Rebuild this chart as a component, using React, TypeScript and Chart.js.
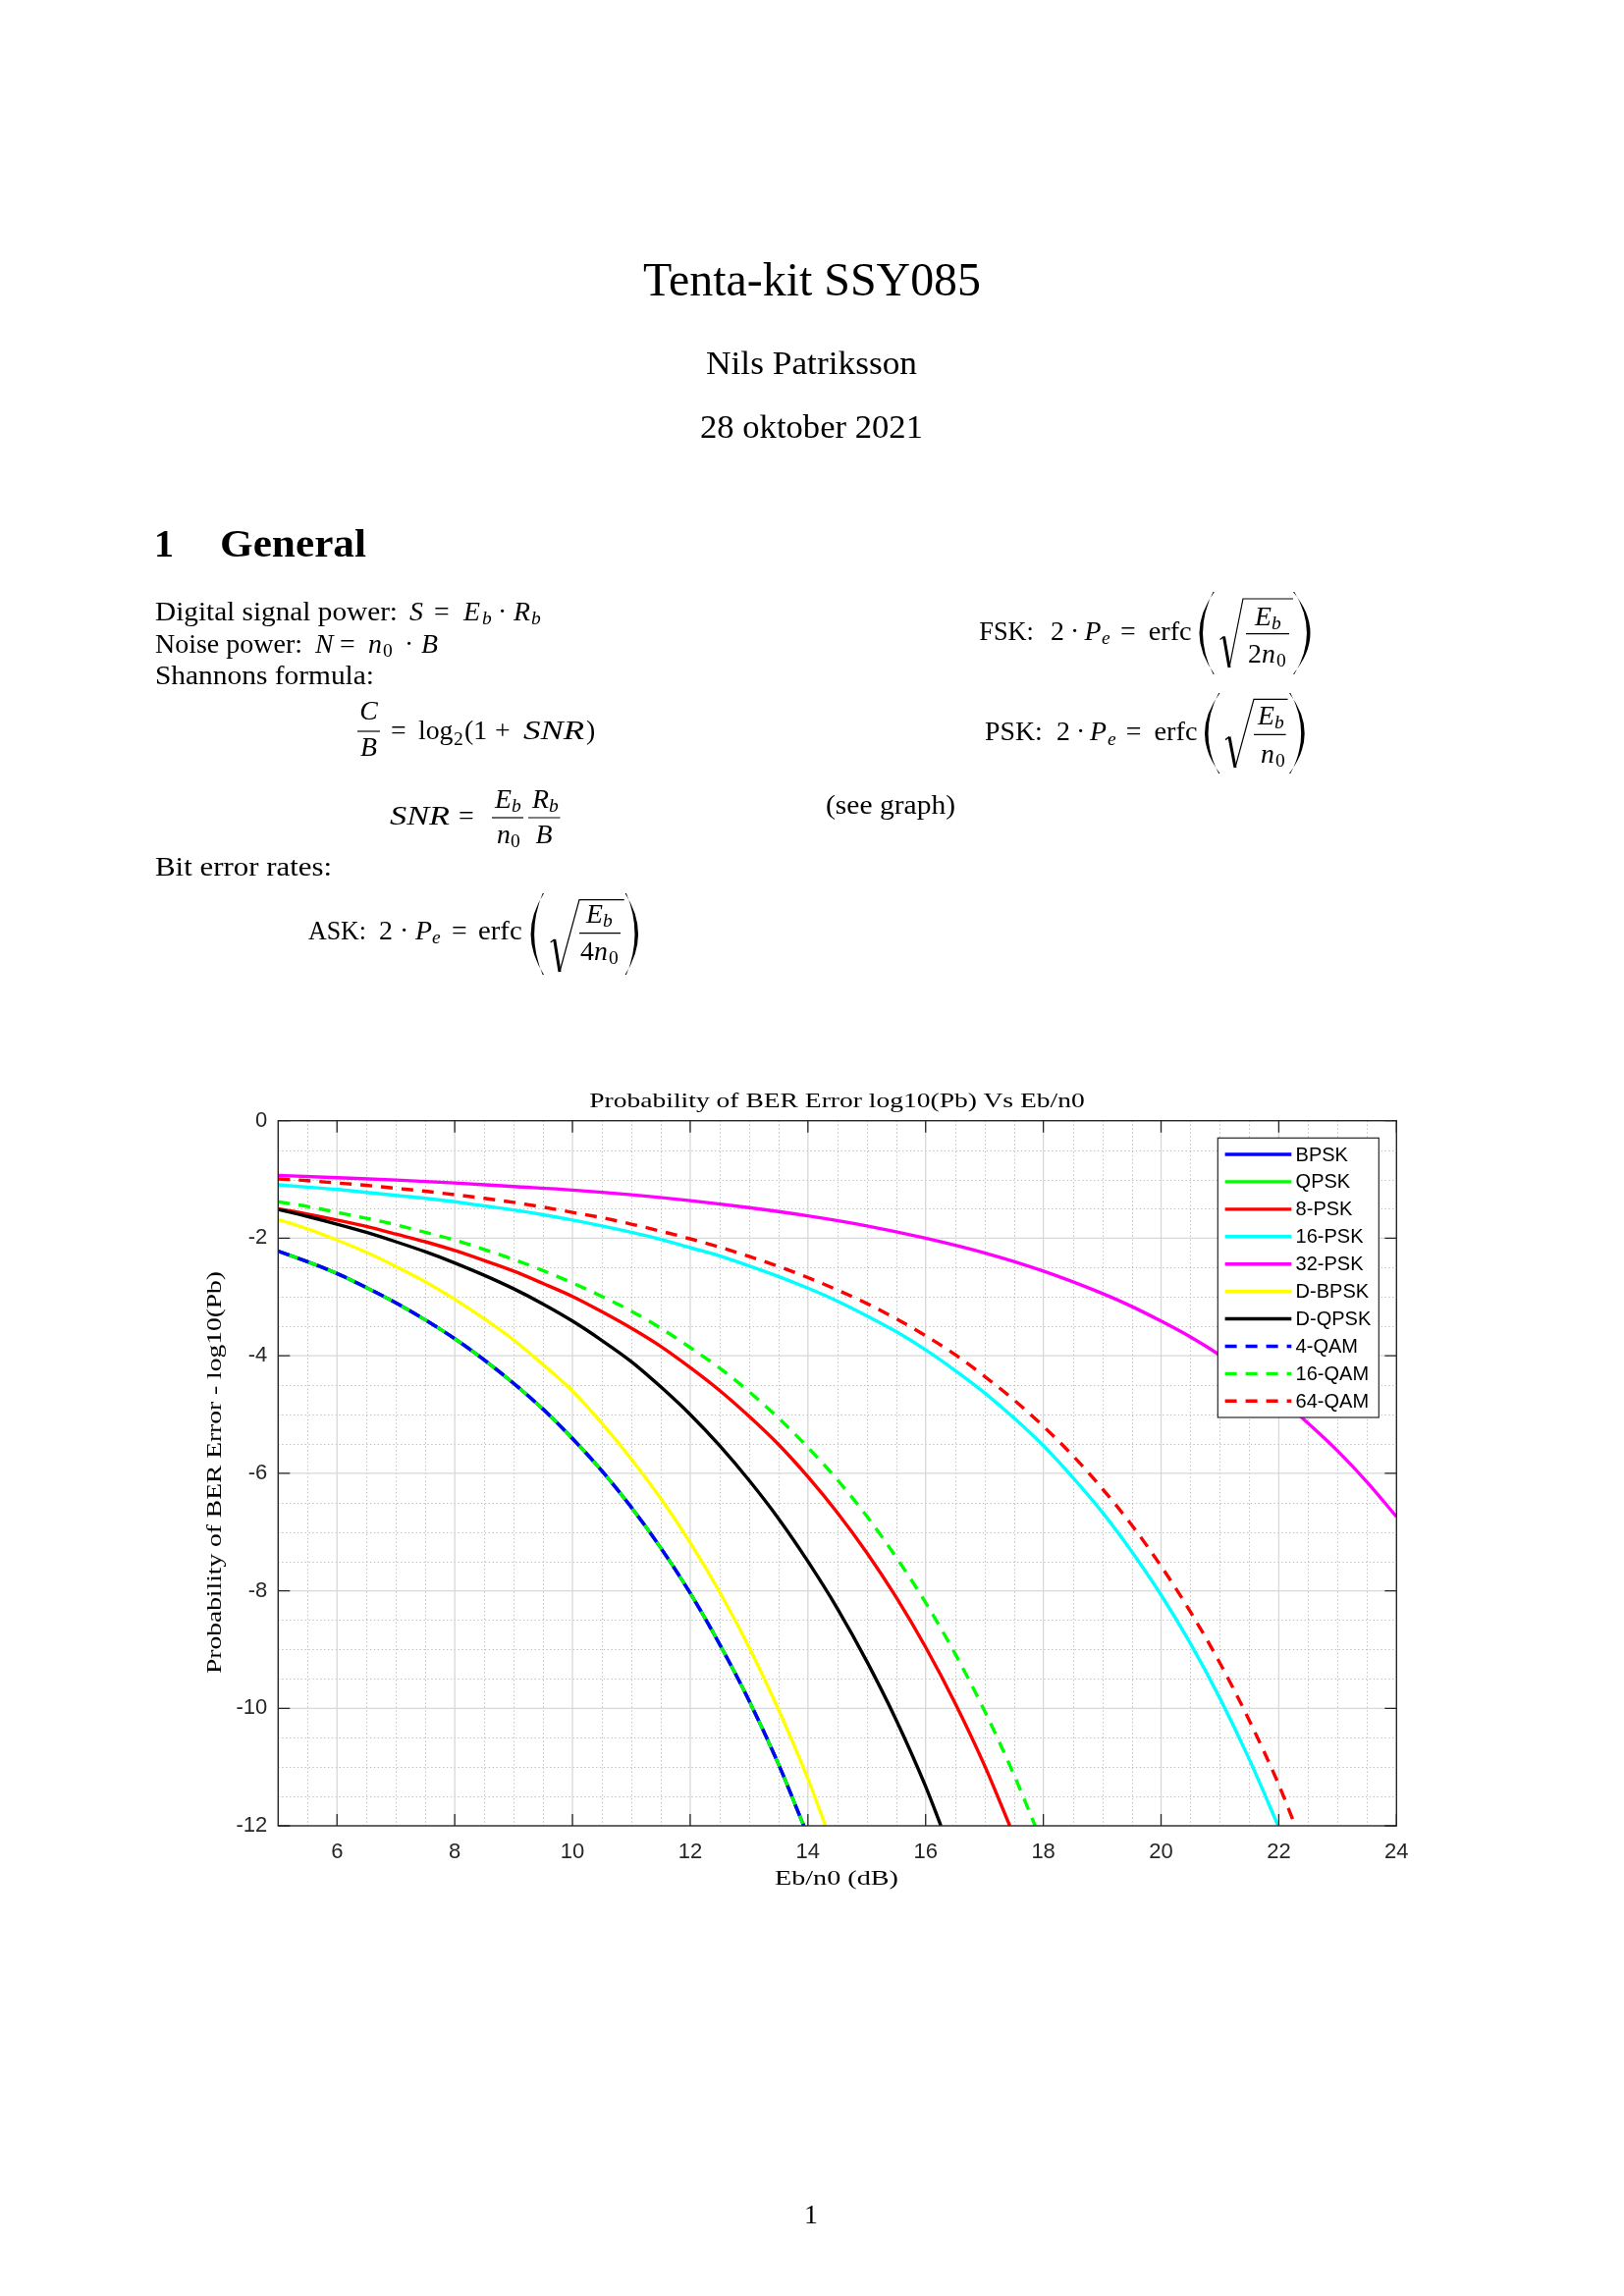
import React, { useEffect, useRef } from "react";
import { Chart, registerables } from "chart.js";

Chart.register(...registerables);

// ---------------- data ----------------
const seriesNames = ["BPSK", "QPSK", "8-PSK", "16-PSK", "32-PSK", "D-BPSK", "D-QPSK", "4-QAM", "16-QAM", "64-QAM"];

const xTickValues = [6, 8, 10, 12, 14, 16, 18, 20, 22, 24];
const yTickValues = [-12, -10, -8, -6, -4, -2, 0];

const bpskEbN0 = [5, 5.5, 6, 6.5, 7, 7.5, 8, 8.5, 9, 9.5, 10, 10.5, 11, 11.5, 12, 12.5, 13, 13.5, 13.93];
const bpskLogPb = [-2.22, -2.4, -2.6, -2.84, -3.1, -3.39, -3.71, -4.07, -4.47, -4.91, -5.41, -5.96, -6.58, -7.27, -8.04, -8.91, -9.87, -10.95, -12];

const qpskEbN0 = [5, 5.5, 6, 6.5, 7, 7.5, 8, 8.5, 9, 9.5, 10, 10.5, 11, 11.5, 12, 12.5, 13, 13.5, 13.93];
const qpskLogPb = [-2.22, -2.4, -2.6, -2.84, -3.1, -3.39, -3.71, -4.07, -4.47, -4.91, -5.41, -5.96, -6.58, -7.27, -8.04, -8.91, -9.87, -10.95, -12];

const psk8EbN0 = [5, 5.5, 6, 6.5, 7, 7.5, 8, 8.5, 9, 9.5, 10, 10.5, 11, 11.5, 12, 12.5, 13, 13.5, 14, 14.5, 15, 15.5, 16, 16.5, 17, 17.43];
const psk8LogPb = [-1.5, -1.59, -1.69, -1.8, -1.93, -2.06, -2.21, -2.38, -2.56, -2.77, -2.99, -3.25, -3.53, -3.84, -4.2, -4.59, -5.03, -5.51, -6.06, -6.67, -7.35, -8.11, -8.96, -9.91, -10.97, -12];

const psk16EbN0 = [5, 5.5, 6, 6.5, 7, 7.5, 8, 8.5, 9, 9.5, 10, 10.5, 11, 11.5, 12, 12.5, 13, 13.5, 14, 14.5, 15, 15.5, 16, 16.5, 17, 17.5, 18, 18.5, 19, 19.5, 20, 20.5, 21, 21.5, 21.99];
const psk16LogPb = [-1.09, -1.13, -1.17, -1.22, -1.27, -1.32, -1.38, -1.45, -1.52, -1.6, -1.69, -1.79, -1.9, -2.02, -2.16, -2.3, -2.47, -2.65, -2.85, -3.07, -3.32, -3.59, -3.9, -4.25, -4.63, -5.06, -5.53, -6.07, -6.66, -7.33, -8.07, -8.9, -9.83, -10.87, -12];

const psk32EbN0 = [5, 6, 7, 8, 9, 10, 11, 12, 13, 14, 15, 16, 17, 18, 19, 19.5, 20, 20.5, 21, 21.5, 22, 22.5, 23, 23.5, 24];
const psk32LogPb = [-0.93, -0.97, -1.01, -1.06, -1.12, -1.18, -1.26, -1.36, -1.48, -1.62, -1.79, -2.0, -2.25, -2.56, -2.94, -3.16, -3.41, -3.68, -3.99, -4.34, -4.72, -5.15, -5.62, -6.15, -6.74];

const dbpskEbN0 = [5, 5.5, 6, 6.5, 7, 7.5, 8, 8.5, 9, 9.5, 10, 10.5, 11, 11.5, 12, 12.5, 13, 13.5, 14, 14.3];
const dbpskLogPb = [-1.68, -1.84, -2.03, -2.24, -2.48, -2.74, -3.04, -3.37, -3.73, -4.15, -4.6, -5.15, -5.76, -6.43, -7.18, -8.02, -8.96, -10.02, -11.2, -12];

const dqpskEbN0 = [5, 5.5, 6, 6.5, 7, 7.5, 8, 8.5, 9, 9.5, 10, 10.5, 11, 11.5, 12, 12.5, 13, 13.5, 14, 14.5, 15, 15.5, 16, 16.26];
const dqpskLogPb = [-1.51, -1.63, -1.76, -1.9, -2.06, -2.23, -2.42, -2.63, -2.86, -3.12, -3.41, -3.74, -4.1, -4.53, -5.0, -5.53, -6.12, -6.77, -7.5, -8.3, -9.2, -10.2, -11.33, -12];

const qam4EbN0 = [5, 5.5, 6, 6.5, 7, 7.5, 8, 8.5, 9, 9.5, 10, 10.5, 11, 11.5, 12, 12.5, 13, 13.5, 13.93];
const qam4LogPb = [-2.22, -2.4, -2.6, -2.84, -3.1, -3.39, -3.71, -4.07, -4.47, -4.91, -5.41, -5.96, -6.58, -7.27, -8.04, -8.91, -9.87, -10.95, -12];

const qam16EbN0 = [5, 5.5, 6, 6.5, 7, 7.5, 8, 8.5, 9, 9.5, 10, 10.5, 11, 11.5, 12, 12.5, 13, 13.5, 14, 14.5, 15, 15.5, 16, 16.5, 17, 17.5, 17.86];
const qam16LogPb = [-1.38, -1.46, -1.56, -1.66, -1.77, -1.9, -2.03, -2.19, -2.36, -2.55, -2.76, -2.99, -3.24, -3.53, -3.86, -4.21, -4.61, -5.06, -5.56, -6.11, -6.73, -7.43, -8.2, -9.07, -10.04, -11.13, -12];

const qam64EbN0 = [5, 5.5, 6, 6.5, 7, 7.5, 8, 8.5, 9, 9.5, 10, 10.5, 11, 11.5, 12, 12.5, 13, 13.5, 14, 14.5, 15, 15.5, 16, 16.5, 17, 17.5, 18, 18.5, 19, 19.5, 20, 20.5, 21, 21.5, 22, 22.28];
const qam64LogPb = [-0.99, -1.02, -1.06, -1.1, -1.15, -1.2, -1.26, -1.32, -1.39, -1.47, -1.56, -1.65, -1.76, -1.88, -2.01, -2.15, -2.31, -2.48, -2.67, -2.88, -3.11, -3.37, -3.66, -3.98, -4.35, -4.75, -5.2, -5.7, -6.26, -6.88, -7.58, -8.36, -9.23, -10.21, -11.3, -12];

const seriesX = [bpskEbN0, qpskEbN0, psk8EbN0, psk16EbN0, psk32EbN0, dbpskEbN0, dqpskEbN0, qam4EbN0, qam16EbN0, qam64EbN0];
const seriesY = [bpskLogPb, qpskLogPb, psk8LogPb, psk16LogPb, psk32LogPb, dbpskLogPb, dqpskLogPb, qam4LogPb, qam16LogPb, qam64LogPb];

// ---------------- styles ----------------
const seriesColors = ["#0000ff", "#00ff00", "#ff0000", "#00ffff", "#ff00ff", "#ffff00", "#000000", "#0000ff", "#00ff00", "#ff0000"];
const seriesDashed = [false, false, false, false, false, false, false, true, true, true];

const X_MIN = 5, X_MAX = 24, Y_MIN = -12, Y_MAX = 0;
const SERIF = '"Liberation Serif", "Times New Roman", serif';
const SANS = '"Liberation Sans", Arial, Helvetica, sans-serif';
const AXIS_COLOR = "#262626";
const LINE_W = 3.4;
const DASH = [12, 9];

// grid (minor dotted + major solid) drawn behind the data
const gridPlugin = {
  id: "matlabGrid",
  beforeDatasetsDraw(chart: any) {
    const { ctx, chartArea: a, scales } = chart;
    const xs = scales.x, ys = scales.y;
    ctx.save();
    ctx.lineWidth = 1;
    ctx.strokeStyle = "#bcbcbc";
    ctx.setLineDash([1.3, 2.6]);
    for (let v = X_MIN + 0.5; v < X_MAX; v += 0.5) {
      if (xTickValues.includes(v)) continue;
      const p = Math.round(xs.getPixelForValue(v)) + 0.5;
      ctx.beginPath(); ctx.moveTo(p, a.top); ctx.lineTo(p, a.bottom); ctx.stroke();
    }
    for (let v = Y_MIN + 0.5; v < Y_MAX; v += 0.5) {
      if (yTickValues.includes(v)) continue;
      const p = Math.round(ys.getPixelForValue(v)) + 0.5;
      ctx.beginPath(); ctx.moveTo(a.left, p); ctx.lineTo(a.right, p); ctx.stroke();
    }
    ctx.setLineDash([]);
    ctx.strokeStyle = "#d8d8d8";
    ctx.lineWidth = 1.3;
    for (const v of xTickValues) {
      if (v <= X_MIN || v >= X_MAX) continue;
      const p = xs.getPixelForValue(v);
      ctx.beginPath(); ctx.moveTo(p, a.top); ctx.lineTo(p, a.bottom); ctx.stroke();
    }
    for (const v of yTickValues) {
      if (v <= Y_MIN || v >= Y_MAX) continue;
      const p = ys.getPixelForValue(v);
      ctx.beginPath(); ctx.moveTo(a.left, p); ctx.lineTo(a.right, p); ctx.stroke();
    }
    ctx.restore();
  },
};

// axes box and inward tick marks on all four sides
const boxPlugin = {
  id: "matlabBox",
  afterDatasetsDraw(chart: any) {
    const { ctx, chartArea: a, scales } = chart;
    const xs = scales.x, ys = scales.y;
    const tl = 12;
    ctx.save();
    ctx.strokeStyle = AXIS_COLOR;
    ctx.lineWidth = 1.4;
    ctx.setLineDash([]);
    ctx.strokeRect(a.left, a.top, a.right - a.left, a.bottom - a.top);
    ctx.lineWidth = 1.3;
    for (const v of xTickValues) {
      const p = xs.getPixelForValue(v);
      ctx.beginPath();
      ctx.moveTo(p, a.bottom); ctx.lineTo(p, a.bottom - tl);
      ctx.moveTo(p, a.top); ctx.lineTo(p, a.top + tl);
      ctx.stroke();
    }
    for (const v of yTickValues) {
      const p = ys.getPixelForValue(v);
      ctx.beginPath();
      ctx.moveTo(a.left, p); ctx.lineTo(a.left + tl, p);
      ctx.moveTo(a.right, p); ctx.lineTo(a.right - tl, p);
      ctx.stroke();
    }
    ctx.restore();
  },
};

// boxed legend in the upper right corner of the axes
const legendPlugin = {
  id: "matlabLegend",
  afterDraw(chart: any) {
    const { ctx, chartArea: a } = chart;
    const w = 164, h = 284.7;
    const left = a.right - 18 - w, top = a.top + 17.6;
    ctx.save();
    ctx.fillStyle = "#ffffff";
    ctx.fillRect(left, top, w, h);
    ctx.strokeStyle = AXIS_COLOR;
    ctx.lineWidth = 1.2;
    ctx.strokeRect(left, top, w, h);
    chart.data.datasets.forEach((ds: any, i: number) => {
      const cy = top + 16.7 + i * 27.92;
      ctx.strokeStyle = ds.borderColor;
      ctx.lineWidth = LINE_W;
      ctx.setLineDash(ds.borderDash || []);
      ctx.beginPath(); ctx.moveTo(left + 7.3, cy); ctx.lineTo(left + 75, cy); ctx.stroke();
      ctx.setLineDash([]);
      ctx.fillStyle = "#000000";
      ctx.font = `20px ${SANS}`;
      ctx.textBaseline = "middle";
      ctx.textAlign = "left";
      ctx.fillText(ds.label, left + 79.3, cy + 1);
    });
    ctx.restore();
  },
};

function BerChart() {
  const ref = useRef<HTMLCanvasElement | null>(null);
  useEffect(() => {
    if (!ref.current) return;
    const datasets = seriesNames.map((name, i) => ({
      label: name,
      data: seriesX[i].map((x, k) => ({ x, y: seriesY[i][k] })),
      borderColor: seriesColors[i],
      backgroundColor: seriesColors[i],
      borderWidth: LINE_W,
      borderDash: seriesDashed[i] ? DASH : [],
      borderCapStyle: "butt",
      borderJoinStyle: "round",
      pointRadius: 0,
      pointHoverRadius: 0,
      fill: false,
      cubicInterpolationMode: "monotone",
      order: -i,
      clip: 0,
    }));
    const tickFont = { family: SANS, size: 22 };
    const chart = new Chart(ref.current, {
      type: "line",
      data: { datasets } as any,
      options: {
        animation: false,
        responsive: false,
        devicePixelRatio: 1,
        events: [],
        layout: { padding: { left: 30.3, right: 50.7, top: 51.7, bottom: 30 } },
        plugins: { legend: { display: false }, title: { display: false }, tooltip: { enabled: false } },
        scales: {
          x: {
            type: "linear",
            min: X_MIN,
            max: X_MAX,
            afterBuildTicks: (s: any) => { s.ticks = xTickValues.map((v) => ({ value: v })); },
            ticks: { padding: 14, font: tickFont, color: AXIS_COLOR, maxRotation: 0, autoSkip: false, callback: (v: any) => String(v) },
            grid: { display: false, drawTicks: false },
            border: { display: false },
            afterFit: (s: any) => { s.height = 50; },
          },
          y: {
            type: "linear",
            min: Y_MIN,
            max: Y_MAX,
            afterBuildTicks: (s: any) => { s.ticks = yTickValues.map((v) => ({ value: v })); },
            ticks: { padding: 11, font: tickFont, color: AXIS_COLOR, autoSkip: false, callback: (v: any) => String(v) },
            grid: { display: false, drawTicks: false },
            border: { display: false },
            afterFit: (s: any) => { s.width = 70; },
          },
        },
      } as any,
      plugins: [gridPlugin, boxPlugin, legendPlugin],
    });
    return () => chart.destroy();
  }, []);
  return (
    <canvas
      ref={ref}
      width={1290}
      height={850}
      style={{ position: "absolute", left: 183, top: 1090, width: 1290, height: 850 }}
    />
  );
}

// ---------------- document text (SVG) ----------------
const BODY = 27.8, SUB = 19.5;

type TP = { x: number; y: number; s?: number; t: string; i?: boolean; b?: boolean; len?: number; a?: "start" | "middle" | "end"; f?: string };
const Tx = ({ x, y, s = BODY, t, i, b, len, a = "start", f = SERIF }: TP) => (
  <text
    x={x}
    y={y}
    fontSize={s}
    fontFamily={f}
    fontStyle={i ? "italic" : "normal"}
    fontWeight={b ? "bold" : "normal"}
    textAnchor={a}
    fill="#000"
    {...(len ? { textLength: len, lengthAdjust: "spacingAndGlyphs" } : {})}
  >
    {t}
  </text>
);

const Paren = ({ xl, xr, top, bot, right }: { xl: number; xr: number; top: number; bot: number; right?: boolean }) => {
  const mid = (top + bot) / 2, th = 4.2, e = 1.3;
  let d: string;
  if (!right) {
    const cx = 2 * xl - xr;
    d = `M${xr},${top} Q${cx},${mid} ${xr},${bot} L${xr - e},${bot} Q${cx + 2 * th},${mid} ${xr - e},${top} Z`;
  } else {
    const cx = 2 * xr - xl;
    d = `M${xl},${top} Q${cx},${mid} ${xl},${bot} L${xl + e},${bot} Q${cx - 2 * th},${mid} ${xl + e},${top} Z`;
  }
  return <path d={d} fill="#000" />;
};

const Sqrt = ({ x0, xb, xt, xe, top, bot }: { x0: number; xb: number; xt: number; xe: number; top: number; bot: number }) => {
  const h = bot - top;
  const yh = bot - 0.45 * h;
  return (
    <g stroke="#000" fill="none">
      <path d={`M${x0},${yh + 3} L${x0 + 4},${yh}`} strokeWidth={1.3} />
      <path d={`M${x0 + 4},${yh} L${xb},${bot}`} strokeWidth={3} />
      <path d={`M${xb},${bot} L${xt},${top} L${xe},${top}`} strokeWidth={1.2} />
    </g>
  );
};

const Bar = ({ x1, x2, y }: { x1: number; x2: number; y: number }) => (
  <line x1={x1} x2={x2} y1={y} y2={y} stroke="#000" strokeWidth={1.2} />
);

function Page() {
  return (
    <svg
      width={1654}
      height={2339}
      viewBox="0 0 1654 2339"
      style={{ position: "absolute", left: 0, top: 0, pointerEvents: "none" }}
    >
      {/* title block */}
      <Tx x={827} y={301} s={48} t="Tenta-kit SSY085" a="middle" len={344} />
      <Tx x={826.5} y={380.5} s={33.4} t="Nils Patriksson" a="middle" len={215} />
      <Tx x={826.5} y={445.5} s={33.4} t="28 oktober 2021" a="middle" len={227} />

      {/* section */}
      <Tx x={157} y={567} s={40} b t="1" />
      <Tx x={224} y={567} s={40} b t="General" len={149} />

      {/* line 1 */}
      <Tx x={158} y={631.5} t="Digital signal power:" len={247} />
      <Tx x={417} y={631.5} t="S" i />
      <Tx x={442} y={631.5} t="=" />
      <Tx x={472} y={631.5} t="E" i />
      <Tx x={491} y={635.5} s={SUB} t="b" i />
      <Tx x={507} y={631.5} t="·" />
      <Tx x={523} y={631.5} t="R" i />
      <Tx x={541} y={635.5} s={SUB} t="b" i />

      {/* line 2 */}
      <Tx x={158} y={665} t="Noise power:" len={150} />
      <Tx x={321} y={665} t="N" i />
      <Tx x={346} y={665} t="=" />
      <Tx x={375} y={665} t="n" i />
      <Tx x={390} y={669} s={SUB} t="0" />
      <Tx x={412} y={665} t="·" />
      <Tx x={429} y={665} t="B" i />

      {/* line 3 */}
      <Tx x={158} y={697} t="Shannons formula:" len={223} />

      {/* C/B = log2(1+SNR) */}
      <Tx x={375.5} y={733} t="C" i a="middle" />
      <Bar x1={364} x2={387} y={745} />
      <Tx x={375.5} y={770} t="B" i a="middle" />
      <Tx x={398} y={752.5} t="=" />
      <Tx x={426} y={752.5} t="log" />
      <Tx x={462} y={758.5} s={SUB} t="2" />
      <Tx x={473} y={752.5} t="(1" />
      <Tx x={504} y={752.5} t="+" />
      <Tx x={533} y={752.5} t="SNR" i len={62} />
      <Tx x={597} y={752.5} t=")" />

      {/* SNR = Eb/n0 Rb/B */}
      <Tx x={397} y={840} t="SNR" i len={61} />
      <Tx x={467} y={840} t="=" />
      <Bar x1={501} x2={533} y={833} />
      <Tx x={504} y={823} t="E" i />
      <Tx x={521} y={827} s={SUB} t="b" i />
      <Tx x={506} y={858.5} t="n" i />
      <Tx x={520} y={862.5} s={SUB} t="0" />
      <Bar x1={538} x2={570.5} y={833} />
      <Tx x={542} y={823} t="R" i />
      <Tx x={559} y={827} s={SUB} t="b" i />
      <Tx x={554} y={858.5} t="B" i a="middle" />

      <Tx x={841} y={828.5} t="(see graph)" len={132} />
      <Tx x={158} y={891.5} t="Bit error rates:" len={180} />

      {/* ASK */}
      <Tx x={314} y={956.5} t="ASK:" len={59} />
      <Tx x={386} y={956.5} t="2" />
      <Tx x={407} y={956.5} t="·" />
      <Tx x={423} y={956.5} t="P" i />
      <Tx x={440} y={961} s={SUB} t="e" i />
      <Tx x={460} y={956.5} t="=" />
      <Tx x={487} y={956.5} t="erfc" len={44.7} />
      <Paren xl={540.6} xr={554} top={910} bot={993} />
      <Sqrt x0={560.7} xb={570} xt={590} xe={635.7} top={916.7} bot={990} />
      <Bar x1={590} x2={632} y={950.7} />
      <Tx x={597} y={940} t="E" i />
      <Tx x={614} y={944} s={SUB} t="b" i />
      <Tx x={591} y={978} t="4" />
      <Tx x={605} y={978} t="n" i />
      <Tx x={620} y={982} s={SUB} t="0" />
      <Paren xl={636.6} xr={650} top={910} bot={993} right />

      {/* FSK */}
      <Tx x={997.3} y={651.7} t="FSK:" len={55.6} />
      <Tx x={1070} y={651.7} t="2" />
      <Tx x={1090} y={651.7} t="·" />
      <Tx x={1104.6} y={651.7} t="P" i />
      <Tx x={1122} y={656} s={SUB} t="e" i />
      <Tx x={1141} y={651.7} t="=" />
      <Tx x={1169.7} y={651.7} t="erfc" len={44} />
      <Paren xl={1221.5} xr={1236.8} top={603} bot={686.7} />
      <Sqrt x0={1242.5} xb={1252} xt={1266} xe={1317} top={610} bot={680} />
      <Bar x1={1269} x2={1313} y={645.7} />
      <Tx x={1278} y={636.7} t="E" i />
      <Tx x={1295} y={640.7} s={SUB} t="b" i />
      <Tx x={1271} y={675} t="2" />
      <Tx x={1285} y={675} t="n" i />
      <Tx x={1300} y={679} s={SUB} t="0" />
      <Paren xl={1317} xr={1334.5} top={603} bot={686.7} right />

      {/* PSK */}
      <Tx x={1003} y={754} t="PSK:" />
      <Tx x={1076} y={754} t="2" />
      <Tx x={1096} y={754} t="·" />
      <Tx x={1110} y={754} t="P" i />
      <Tx x={1128} y={758.5} s={SUB} t="e" i />
      <Tx x={1146.7} y={754} t="=" />
      <Tx x={1175.5} y={754} t="erfc" len={44} />
      <Paren xl={1227} xr={1242.5} top={706} bot={788} />
      <Sqrt x0={1248} xb={1258} xt={1277} xe={1311.5} top={712.3} bot={782} />
      <Bar x1={1277} x2={1309.6} y={748.3} />
      <Tx x={1281} y={738.3} t="E" i />
      <Tx x={1298} y={742.3} s={SUB} t="b" i />
      <Tx x={1284} y={776.7} t="n" i />
      <Tx x={1299} y={780.7} s={SUB} t="0" />
      <Paren xl={1313} xr={1328.7} top={706} bot={788} right />

      {/* chart titles */}
      <Tx x={852.5} y={1128} s={22} t="Probability of BER Error log10(Pb) Vs Eb/n0" a="middle" len={504.5} />
      <Tx x={852} y={1920} s={22} t="Eb/n0 (dB)" a="middle" len={126} />
      <g transform="translate(225,1500) rotate(-90)">
        <Tx x={0} y={0} s={22} t="Probability of BER Error - log10(Pb)" a="middle" len={410} />
      </g>

      {/* page number */}
      <Tx x={826} y={2265} t="1" a="middle" />
    </svg>
  );
}

export default function App() {
  return (
    <div style={{ position: "absolute", left: 0, top: 0, width: 1654, height: 2339, background: "#ffffff", overflow: "hidden" }}>
      <BerChart />
      <Page />
    </div>
  );
}
